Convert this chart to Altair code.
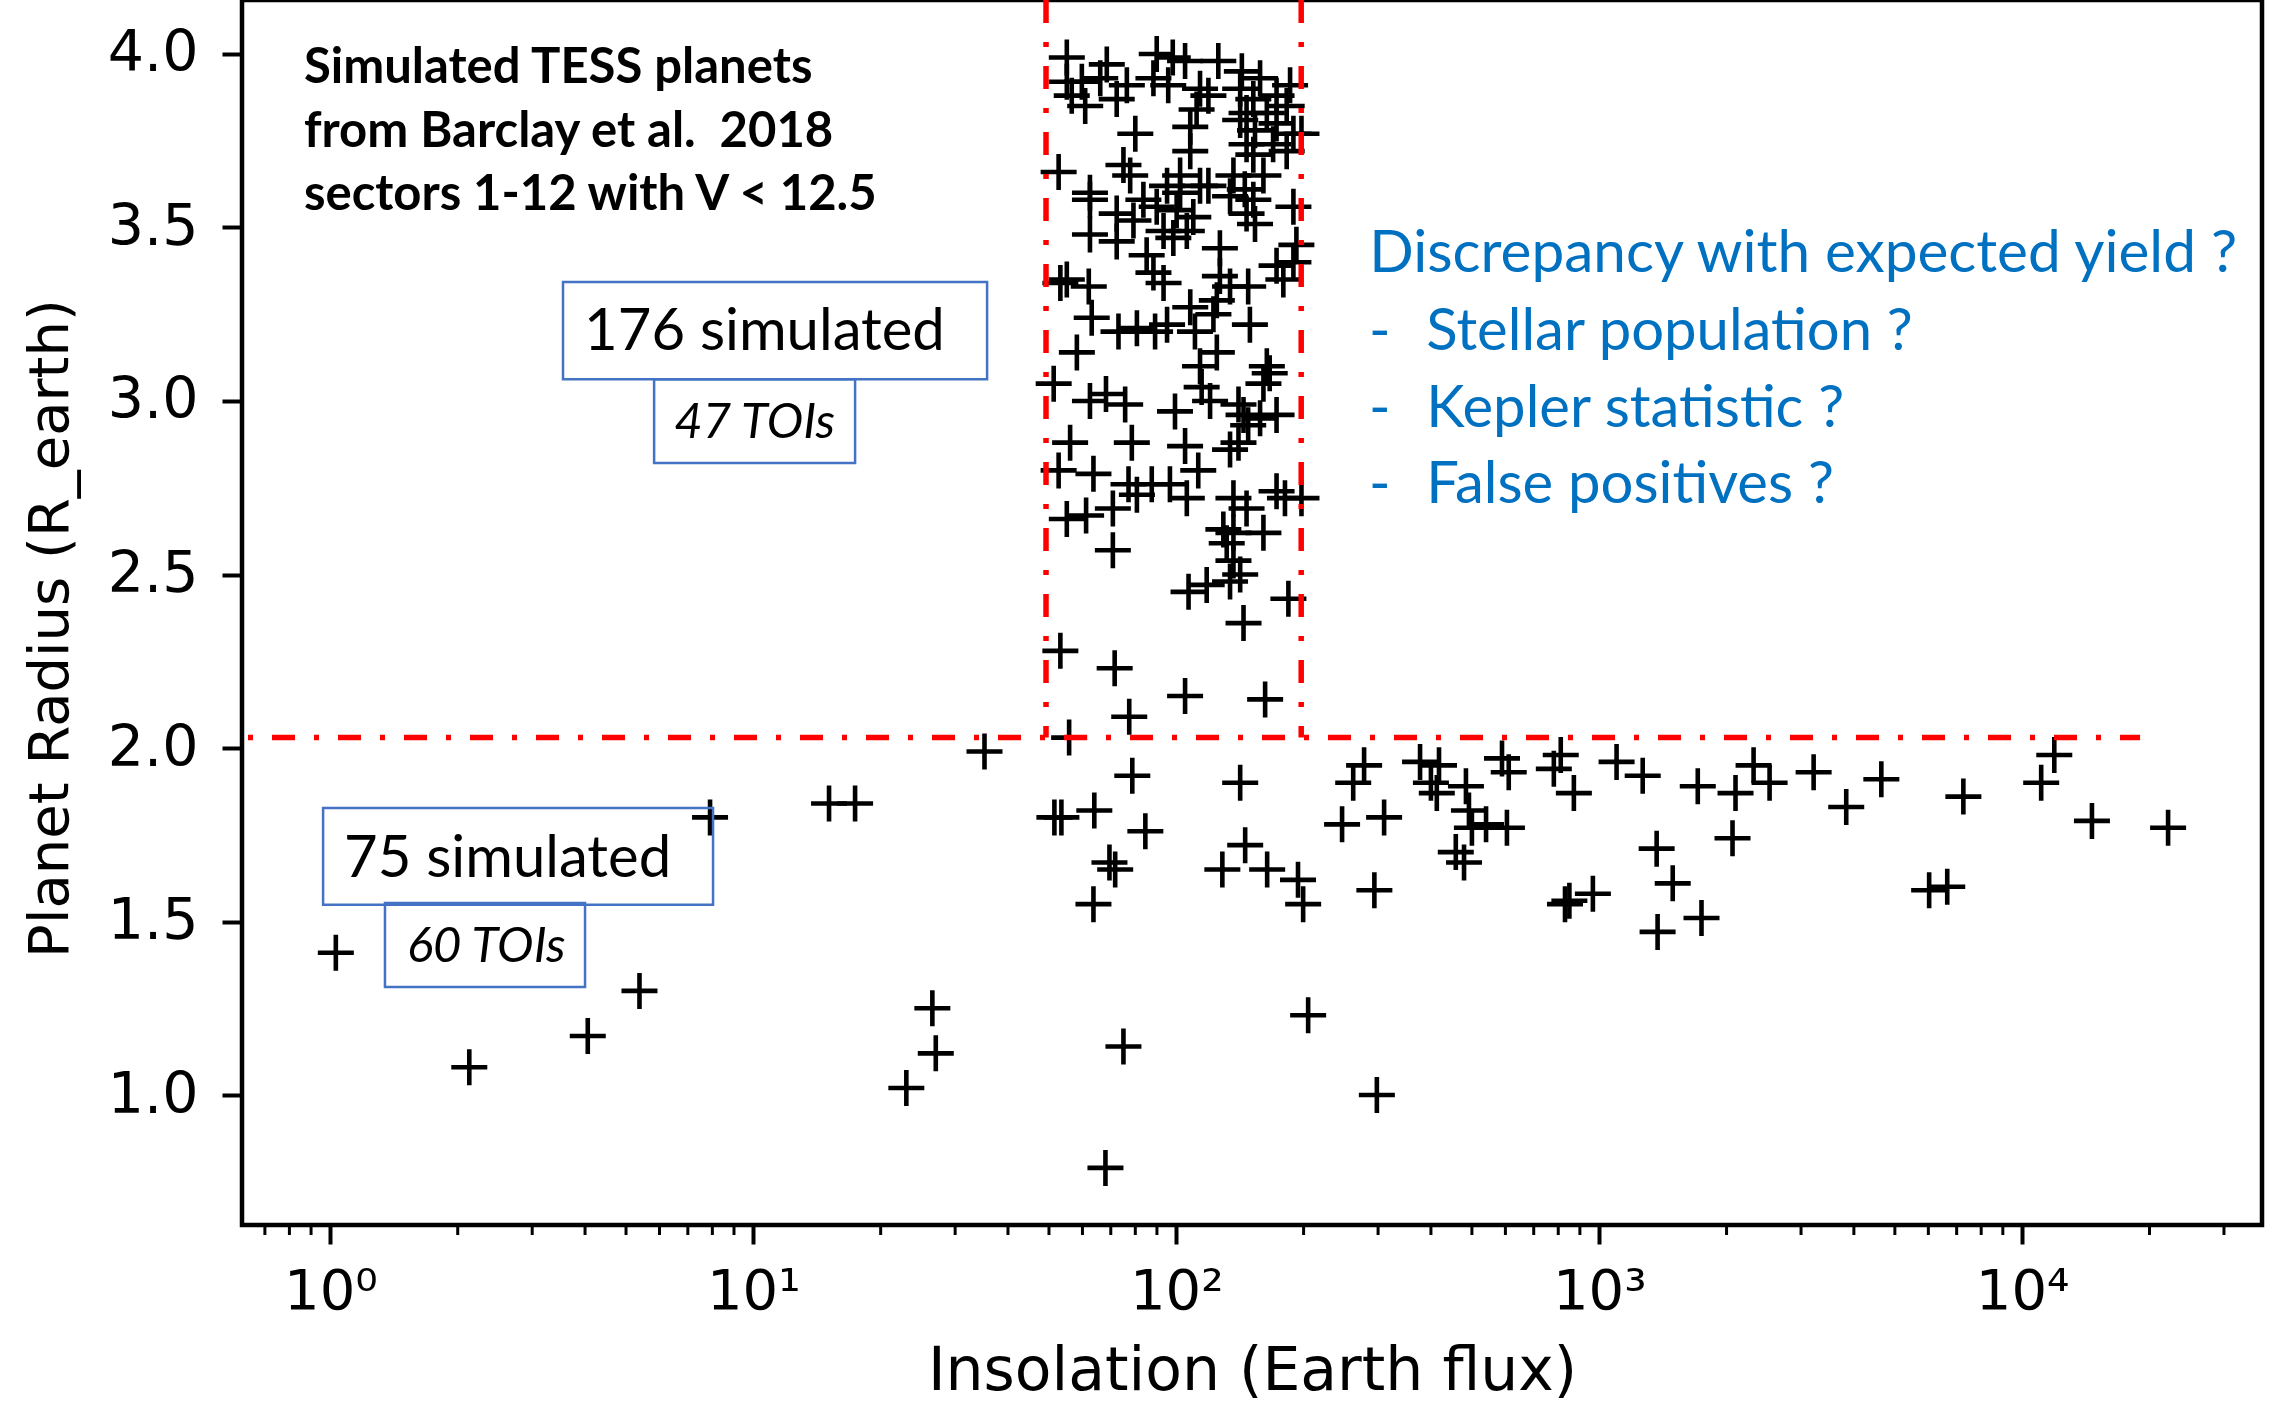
import altair as alt
import pandas as pd

# ---------------- data ----------------
# simulated planets inside the 50-200 flux / R > 2 box
box_flux = [55.1, 68.5, 89.9, 98.1, 104.9, 125.7, 142.9, 157.8, 185.8, 55.1,
            59.8, 66.1, 76.4, 72.3, 60.9, 56.6, 88.3, 95.7, 113.8, 119.1,
            111.7, 141.6, 152.1, 172.6, 182.4, 146.6, 163.7, 141.6, 153.5, 172.6,
            107.9, 80.0, 107.9, 189.2, 197.7, 182.4, 146.6, 152.1, 52.7, 75.0,
            77.8, 102.1, 95.1, 119.1, 136.5, 160.7, 145.2, 152.1, 134.0, 189.2,
            62.5, 62.5, 72.3, 79.2, 62.5, 89.9, 100.2, 109.7, 93.3, 105.9,
            153.5, 146.6, 72.3, 98.4, 85.1, 88.3, 93.3, 126.8, 192.3, 189.2,
            172.6, 55.1, 62.1, 126.8, 134.0, 147.9, 124.7, 107.9, 122.4, 149.3,
            63.1, 73.0, 80.7, 89.1, 95.1, 110.7, 113.8, 163.7, 58.2, 124.7,
            53.2, 179.1, 169.4, 83.6, 113.8, 102.1,
            51.3, 62.5, 68.2, 75.7, 99.3, 114.8, 120.2, 140.3, 144.2, 147.9,
            157.8, 172.6, 160.7, 166.3, 56.1, 78.5, 104.9, 134.0, 140.3, 52.7,
            63.7, 77.1, 80.7, 87.5, 96.6, 105.9, 112.7, 136.5, 146.6, 172.6,
            180.7, 197.7, 55.1, 61.2, 70.8, 129.2, 136.5, 160.7, 131.6, 136.5,
            141.6, 134.0, 106.9, 118.0, 184.1, 70.8, 144.2, 53.2, 71.5, 104.9,
            162.2, 77.4, 55.8]
box_radius = [3.99, 3.97, 4.00, 3.99, 3.98, 3.98, 3.95, 3.93, 3.91, 3.92,
              3.92, 3.93, 3.91, 3.87, 3.85, 3.88, 3.93, 3.91, 3.90, 3.88,
              3.84, 3.90, 3.87, 3.88, 3.85, 3.83, 3.83, 3.81, 3.78, 3.80,
              3.79, 3.77, 3.72, 3.77, 3.77, 3.72, 3.74, 3.71, 3.66, 3.68,
              3.65, 3.65, 3.62, 3.62, 3.65, 3.65, 3.61, 3.58, 3.59, 3.56,
              3.60, 3.58, 3.54, 3.52, 3.48, 3.56, 3.55, 3.53, 3.49, 3.49,
              3.51, 3.54, 3.46, 3.47, 3.42, 3.37, 3.34, 3.44, 3.45, 3.40,
              3.39, 3.35, 3.33, 3.36, 3.33, 3.33, 3.29, 3.27, 3.25, 3.22,
              3.24, 3.20, 3.21, 3.20, 3.22, 3.20, 3.10, 3.10, 3.14, 3.14,
              3.34, 3.35, 3.74, 3.58, 3.62, 3.60,
              3.05, 3.00, 3.02, 2.99, 2.97, 3.04, 3.00, 2.99, 2.96, 2.93,
              2.95, 2.96, 3.05, 3.08, 2.88, 2.88, 2.87, 2.86, 2.88, 2.80,
              2.79, 2.76, 2.73, 2.76, 2.76, 2.72, 2.80, 2.72, 2.69, 2.74,
              2.72, 2.72, 2.66, 2.67, 2.69, 2.63, 2.62, 2.62, 2.59, 2.54,
              2.50, 2.48, 2.45, 2.47, 2.43, 2.57, 2.36, 2.28, 2.23, 2.15,
              2.14, 2.09, 2.03]

# simulated planets below 2 Earth radii
small_flux = [1.03, 2.13, 4.06, 5.38, 7.9, 15.1, 17.4, 23.0, 26.5, 27.0, 35.2,
              78.7, 141.6, 51.5, 53.5, 64.0, 84.5, 69.5, 71.7, 63.7, 145.5,
              128.5, 164.0, 194.0, 199.5, 205.0, 75.0, 68.0, 298.0, 246.6, 310.0,
              278.0, 262.0, 294.0, 377.0, 418.0, 400.0, 413.0, 484.0, 492.0, 500.0,
              540.0, 605.0, 458.0, 479.0, 589.0, 611.0, 811.0, 781.0, 871.0, 830.0,
              850.0, 966.0,
              1099, 1267, 1710, 2100, 2317, 2528, 3213, 3837, 4645, 7260,
              11090, 11910, 14620, 22130, 1367, 2066, 1492, 1374, 1745, 6026, 6650]
small_radius = [1.41, 1.08, 1.17, 1.30, 1.80, 1.84, 1.84, 1.02, 1.25, 1.12, 1.99,
                1.92, 1.90, 1.80, 1.80, 1.82, 1.76, 1.67, 1.65, 1.55, 1.72,
                1.65, 1.65, 1.62, 1.55, 1.23, 1.14, 0.79, 1.00, 1.78, 1.80,
                1.95, 1.90, 1.59, 1.96, 1.95, 1.90, 1.87, 1.89, 1.82, 1.77,
                1.78, 1.77, 1.70, 1.67, 1.97, 1.93, 1.98, 1.94, 1.87, 1.55,
                1.56, 1.58,
                1.96, 1.92, 1.89, 1.87, 1.95, 1.90, 1.93, 1.83, 1.91, 1.86,
                1.90, 1.98, 1.79, 1.77, 1.71, 1.74, 1.61, 1.47, 1.51, 1.59, 1.60]

# selection cuts (dash-dot red lines)
cut_radius = 2.03
cut_flux = [49.2, 197.4]
cut_radius_line_end = 19000

major_ticks = [1, 10, 100, 1000, 10000]
minor_ticks = [0.7, 0.8, 0.9,
               2, 3, 4, 5, 6, 7, 8, 9,
               20, 30, 40, 50, 60, 70, 80, 90,
               200, 300, 400, 500, 600, 700, 800, 900,
               2000, 3000, 4000, 5000, 6000, 7000, 8000, 9000,
               20000, 30000]
y_ticks = [1.0, 1.5, 2.0, 2.5, 3.0, 3.5, 4.0]

x_domain = [0.618, 36900]
y_domain = [0.6254, 4.1556]

# annotation text
info_lines = ["Simulated TESS planets", "from Barclay et al.\u00a0 2018", "sectors 1-12 with V < 12.5"]
blue_head = "Discrepancy with expected yield ?"
blue_items = ["Stellar population ?", "Kepler statistic ?", "False positives ?"]

# ---------------- chart ----------------
xs = alt.Scale(type="log", domain=x_domain, nice=False)
ys = alt.Scale(domain=y_domain, nice=False, zero=False)

FONT = "DejaVu Sans"
TXT = "Lato"

points = pd.DataFrame({"flux": box_flux + small_flux,
                       "radius": box_radius + small_radius})

x_axis = alt.Axis(values=major_ticks,
                  labelExpr="'10' + ['\u2070','\u00b9','\u00b2','\u00b3','\u2074'][round(log(datum.value)/LN10)]",
                  labelFont=FONT, labelFontSize=56, labelColor="black",
                  labelPadding=20, labelFlush=False, labelOverlap=False,
                  tickSize=19, tickWidth=4, tickColor="black",
                  domain=False, grid=False,
                  title="Insolation (Earth flux)", titleFont=FONT, titleFontSize=60,
                  titleFontWeight="normal", titleColor="black",
                  titleBaseline="alphabetic", titleY=164)
y_axis = alt.Axis(values=y_ticks, format=".1f",
                  labelFont=FONT, labelFontSize=57, labelColor="black",
                  labelPadding=24, labelOverlap=False,
                  tickSize=20, tickWidth=4, tickColor="black",
                  domain=False, grid=False,
                  title="Planet Radius (R_earth)", titleFont=FONT, titleFontSize=56,
                  titleFontWeight="normal", titleColor="black",
                  titleBaseline="alphabetic", titleX=-175, titleY=628)


def X(field):
    return alt.X(field, type="quantitative", scale=xs, axis=x_axis)


def Y(field):
    return alt.Y(field, type="quantitative", scale=ys, axis=y_axis)


pts = alt.Chart(points).mark_point(
    shape="M-1,0L1,0M0,-1L0,1", filled=False, size=1296,
    stroke="black", strokeWidth=4.6, opacity=1
).encode(x=X("flux"), y=Y("radius"))

minor = alt.Chart(pd.DataFrame({"flux": minor_ticks})).mark_rule(
    color="black", strokeWidth=3
).encode(x=X("flux"), y=alt.value(1225), y2=alt.value(1235))

DASH = [23, 19, 5, 19]
hline = alt.Chart(pd.DataFrame({"flux": [x_domain[0]], "flux2": [cut_radius_line_end],
                                "radius": [cut_radius]})).mark_rule(
    color="#ff0000", strokeWidth=5.5, strokeDash=DASH, strokeDashOffset=36, clip=True
).encode(x=X("flux"), x2="flux2:Q", y=Y("radius"))

vlines = alt.Chart(pd.DataFrame({"flux": cut_flux, "radius": [y_domain[1]] * 2,
                                 "bottom": [cut_radius] * 2})).mark_rule(
    color="#ff0000", strokeWidth=5.5, strokeDash=DASH, clip=True
).encode(x=X("flux"), y=Y("radius"), y2="bottom:Q")

# annotation boxes (flux / radius corners)
boxes = pd.DataFrame({
    "flux": [3.548, 5.826, 0.961, 1.346],
    "f2": [35.7, 17.40, 8.03, 4.00],
    "radius": [3.343, 3.063, 1.827, 1.553],
    "r2": [3.063, 2.821, 1.548, 1.311],
})
rects = alt.Chart(boxes).mark_rect(
    filled=False, stroke="#4472C4", strokeWidth=2.5
).encode(x=X("flux"), x2="f2:Q", y=Y("radius"), y2="r2:Q")


def text_layer(texts, fluxes, radii, **kw):
    df = pd.DataFrame({"t": texts, "flux": fluxes, "radius": radii})
    return alt.Chart(df).mark_text(align="left", baseline="alphabetic", **kw).encode(
        x=X("flux"), y=Y("radius"), text="t:N")


info = text_layer(info_lines, [0.866] * 3, [3.916, 3.732, 3.550],
                  font=TXT, fontSize=49, fontWeight="bold", color="black")
sim = text_layer(["176 simulated", "75 simulated"], [3.98, 1.077], [3.147, 1.628],
                 font=TXT, fontSize=58, color="black")
tois = text_layer(["47 TOIs", "60 TOIs"], [6.50, 1.517], [2.893, 1.383],
                  font=TXT, fontSize=49, fontStyle="italic", color="black")
blue1 = text_layer([blue_head], [286], [3.372], font=TXT, fontSize=58.5, color="#0070C0")
blue_dash = text_layer(["-"] * 3, [285.5] * 3, [3.147, 2.925, 2.706],
                       font=TXT, fontSize=58, color="#0070C0")
blue_items_l = text_layer(blue_items, [390] * 3, [3.147, 2.925, 2.706],
                          font=TXT, fontSize=58, color="#0070C0")

chart = alt.layer(
    pts, minor, rects, hline, vlines, info, sim, tois, blue1, blue_dash, blue_items_l
).properties(
    width=2020, height=1225,
    padding={"left": 242, "top": 0, "right": 20, "bottom": 177},
    autosize=alt.AutoSizeParams(type="none"),
    background="white",
).configure_view(stroke="black", strokeWidth=4.5)

chart.save("out.html", embed_options={"renderer": "svg", "actions": False})
